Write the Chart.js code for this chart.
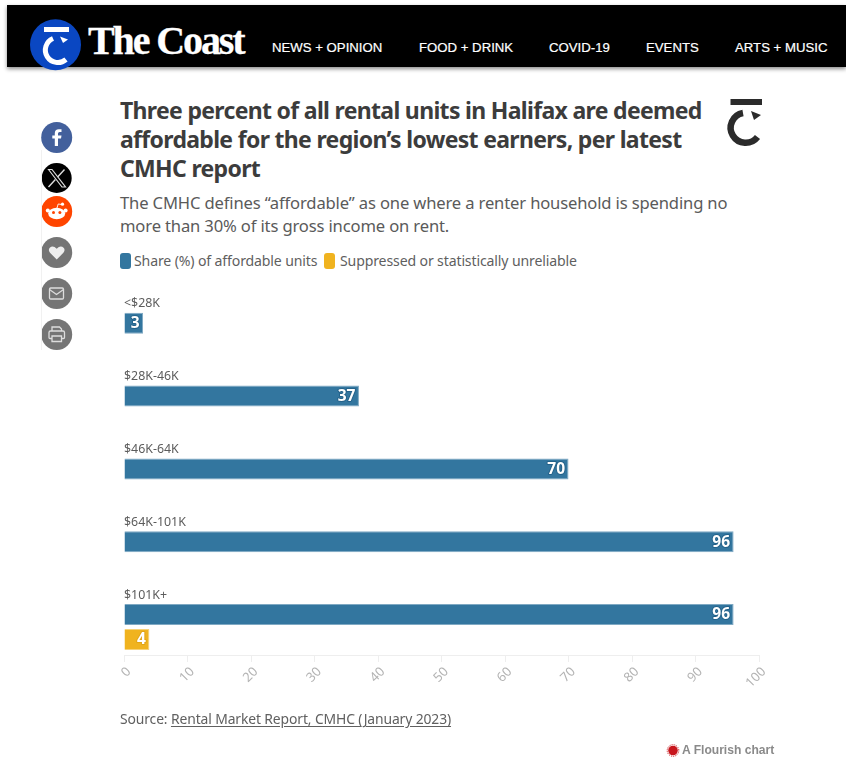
<!DOCTYPE html>
<html lang="en">
<head>
<meta charset="utf-8">
<title>Affordable rental units in Halifax</title>
<script src="https://cdn.jsdelivr.net/npm/chart.js@4"></script>
<style>
  html, body { margin: 0; padding: 0; background: #fff; }
  body { position: relative; width: 846px; height: 759px; overflow: hidden; font-family: "Noto Sans", sans-serif; }
  .abs { position: absolute; white-space: nowrap; }
  #bar { left: 7px; top: 5px; width: 839px; height: 62px; background: #000; box-shadow: 0 2px 4px rgba(0,0,0,.45); }
  #brand { left: 88px; top: 19px; font: bold 40px/44px "Liberation Serif", serif; color: #fff; letter-spacing: -2.1px; -webkit-text-stroke: .3px #fff; }
  .nav { top: 39px; font: 13.2px/17px "Liberation Sans", sans-serif; color: #fff; -webkit-text-stroke: .2px #fff; }
  #title { left: 120px; top: 96px; font-weight: 700; font-size: 23px; line-height: 29px; color: #3c3c3c; letter-spacing: -.68px; }
  #sub { left: 120px; top: 191px; font-size: 16.6px; line-height: 23px; color: #5a5a5a; letter-spacing: -.15px; }
  #legend { left: 120px; top: 253px; height: 16px; font-size: 14.1px; line-height: 16px; color: #5f5f5f; letter-spacing: -.14px; }
  .swatch { position: absolute; top: 0; width: 11px; height: 16px; border-radius: 3px; }
  .entry { position: absolute; top: 0; }
  #source { left: 120px; top: 710px; font-size: 13.9px; line-height: 18px; color: #606060; letter-spacing: -.12px; }
  #source u { text-underline-offset: 2px; }
  #flourish { left: 682px; top: 744px; font: bold 12.1px/13px "Liberation Sans", sans-serif; color: #8a8a8a; }
  #rail { left: 41px; top: 150px; width: 1px; height: 200px; background: #f1f1f1; }
  #chart { position: absolute; left: 0; top: 0; }
</style>
</head>
<body>
<div class="abs" id="bar"></div>
<svg class="abs" style="left:0;top:0" width="846" height="759">
  <circle cx="55.5" cy="44.7" r="25.5" fill="#0a47c2"/>
  <rect x="44" y="27" width="25" height="5" fill="#fff"/>
  <path d="M66 59.5 A12.5 12.5 0 1 1 53 38.5" fill="none" stroke="#fff" stroke-width="5"/>
  <path d="M60 36.5 L68 39.5 L63 43 Z" fill="#fff"/>
  <rect x="730.5" y="99" width="31.5" height="6" fill="#2b2b2b"/>
  <path d="M757.5 137 A15 15 0 1 1 743 113" fill="none" stroke="#2b2b2b" stroke-width="6.5"/>
  <path d="M751 111 L761 115 L754 120 Z" fill="#2b2b2b"/>

  <circle cx="56.7" cy="137.5" r="15.5" fill="#43609c"/>
  <path d="M58 146 V138.5 H61 L61.5 135.5 H58 V133.5 Q58 132 59.6 132 H61.5 V129.3 H58.8 Q54.8 129.3 54.8 133.2 V135.5 H52.3 V138.5 H54.8 V146 Z" fill="#fff"/>
  <circle cx="56.7" cy="178" r="15" fill="#000"/>
  <path d="M48.5 169.5 L62 187 H65.5 L52 169.5 Z" fill="none" stroke="#ddd" stroke-width="1.2"/>
  <path d="M64.5 169.5 L57.6 177 M55.4 179.6 L48.5 187" stroke="#ddd" stroke-width="1.4"/>
  <circle cx="56.7" cy="211.5" r="15.5" fill="#ff4500"/>
  <ellipse cx="56.7" cy="213.5" rx="8.5" ry="5.8" fill="#fff"/>
  <circle cx="47.8" cy="210.5" r="2" fill="#fff"/><circle cx="65.6" cy="210.5" r="2" fill="#fff"/>
  <circle cx="62.5" cy="204.2" r="1.6" fill="#fff"/>
  <path d="M57 208 L58.2 204 L62 204.5" fill="none" stroke="#fff" stroke-width=".9"/>
  <circle cx="53.5" cy="212.5" r="1.5" fill="#ff4500"/><circle cx="59.9" cy="212.5" r="1.5" fill="#ff4500"/>
  <circle cx="56.7" cy="252.5" r="15.5" fill="#757575"/>
  <path d="M56.7 259.5 L50 252.8 Q47.8 250 49.8 247.7 Q53 245 56.7 248.8 Q60.4 245 63.6 247.7 Q65.6 250 63.4 252.8 Z" fill="#eee"/>
  <circle cx="56.7" cy="293.5" r="15.5" fill="#757575"/>
  <rect x="49.5" y="288" width="14" height="11" rx="1.2" fill="none" stroke="#ddd" stroke-width="1.3"/>
  <path d="M49.5 289.5 L56.5 294.5 L63.5 289.5" fill="none" stroke="#ddd" stroke-width="1.2"/>
  <circle cx="56.7" cy="334.5" r="15.5" fill="#757575"/>
  <path d="M52 331 V327 H59.5 L61.5 329 V331 M52 338.5 H50 Q49 338.5 49 337.5 V332.5 Q49 331 50.5 331 H63 Q64.5 331 64.5 332.5 V337.5 Q64.5 338.5 63.5 338.5 H61.5 M52 336 H61.5 V341.5 H52 Z" fill="none" stroke="#ddd" stroke-width="1.3"/>

  <circle cx="673" cy="750.5" r="4.8" fill="#c8161d"/>
  <circle cx="673" cy="750.5" r="5.8" fill="none" stroke="#c8161d" stroke-width="1" stroke-dasharray="1 1"/>
</svg>
<div class="abs" id="brand">The Coast</div>
<div class="abs nav" style="left:272px">NEWS + OPINION</div>
<div class="abs nav" style="left:419px">FOOD + DRINK</div>
<div class="abs nav" style="left:549px">COVID-19</div>
<div class="abs nav" style="left:646px">EVENTS</div>
<div class="abs nav" style="left:735px">ARTS + MUSIC</div>
<div class="abs" id="rail"></div>

<div class="abs" id="title">Three percent of all rental units in Halifax are deemed<br>affordable for the region’s lowest earners, per latest<br>CMHC report</div>
<div class="abs" id="sub">The CMHC defines “affordable” as one where a renter household is spending no<br>more than 30% of its gross income on rent.</div>
<div class="abs" id="legend"></div>
<canvas id="chart" width="846" height="759"></canvas>
<div class="abs" id="source">Source: <u>Rental Market Report, CMHC (January 2023)</u></div>
<div class="abs" id="flourish">A Flourish chart</div>

<script>
const incomeBands = ['<$28K', '$28K-46K', '$46K-64K', '$64K-101K', '$101K+'];
const affordableShare = [3, 37, 70, 96, 96];
const suppressedShare = [null, null, null, null, 4];
const seriesNames = ['Share (%) of affordable units', 'Suppressed or statistically unreliable'];
const seriesColors = ['#33769f', '#f0b31f'];
const seriesEdges = ['#7fa9c3', '#f6d279'];
const axisTicks = [0, 10, 20, 30, 40, 50, 60, 70, 80, 90, 100];

// Legend sits in the page header, above the canvas.
const legendBox = document.getElementById('legend');
[[0, 14], [204, 220]].forEach(([swatchX, textX], i) => {
  legendBox.insertAdjacentHTML('beforeend',
    `<span class="swatch" style="left:${swatchX}px;background:${seriesColors[i]}"></span>` +
    `<span class="entry" style="left:${textX}px">${seriesNames[i]}</span>`);
});

// Writes each value inside the end of its bar, white on a soft halo.
const barValueLabels = {
  id: 'barValueLabels',
  afterDatasetsDraw(chart) {
    const { ctx } = chart;
    ctx.save();
    ctx.font = '700 15.5px "Noto Sans", sans-serif';
    ctx.textAlign = 'right';
    ctx.textBaseline = 'middle';
    chart.data.datasets.forEach((set, d) => {
      chart.getDatasetMeta(d).data.forEach((bar, i) => {
        const v = set.data[i];
        if (v === null) return;
        const text = String(v);
        ctx.lineWidth = 2;
        ctx.lineJoin = 'round';
        ctx.strokeStyle = d === 0 ? 'rgba(30,90,130,.7)' : 'rgba(220,160,20,.7)';
        ctx.strokeText(text, bar.x - 3.5, bar.y + 0.5);
        ctx.fillStyle = '#fff';
        ctx.fillText(text, bar.x - 3.5, bar.y + 0.5);
      });
    });
    ctx.restore();
  }
};

new Chart(document.getElementById('chart'), {
  type: 'bar',
  plugins: [barValueLabels],
  data: {
    labels: incomeBands,
    datasets: [
      { label: seriesNames[0], data: affordableShare, backgroundColor: seriesColors[0], borderColor: seriesEdges[0], borderWidth: 1 },
      { label: seriesNames[1], data: suppressedShare, backgroundColor: seriesColors[1], borderColor: seriesEdges[1], borderWidth: 1 }
    ]
  },
  options: {
    indexAxis: 'y',
    responsive: false,
    animation: false,
    categoryPercentage: 0.687,
    barPercentage: 0.84,
    layout: { padding: { left: 124, right: 87, top: 299.4, bottom: 95.6 } },
    plugins: { legend: { display: false }, tooltip: { enabled: false } },
    scales: {
      y: {
        type: 'category',
        position: 'left',
        grid: { display: false, drawTicks: false },
        border: { display: false },
        ticks: {
          mirror: true,
          padding: 0,
          labelOffset: -32,
          color: '#5c5c5c',
          font: { family: '"Noto Sans", sans-serif', size: 12.4 }
        }
      },
      x: {
        type: 'linear',
        min: 0,
        max: 100,
        position: { y: 4.385 },
        afterBuildTicks(scale) { scale.ticks = axisTicks.map(value => ({ value })); },
        grid: { display: true, drawOnChartArea: false, drawTicks: true, tickLength: 6, color: '#eeeeee' },
        border: { display: true, color: '#eeeeee' },
        ticks: {
          autoSkip: false,
          minRotation: 45,
          maxRotation: 45,
          labelOffset: 5,
          padding: 3,
          color: '#b4b4b4',
          font: { family: '"Noto Sans", sans-serif', size: 13 }
        }
      }
    }
  }
});
</script>
</body>
</html>
